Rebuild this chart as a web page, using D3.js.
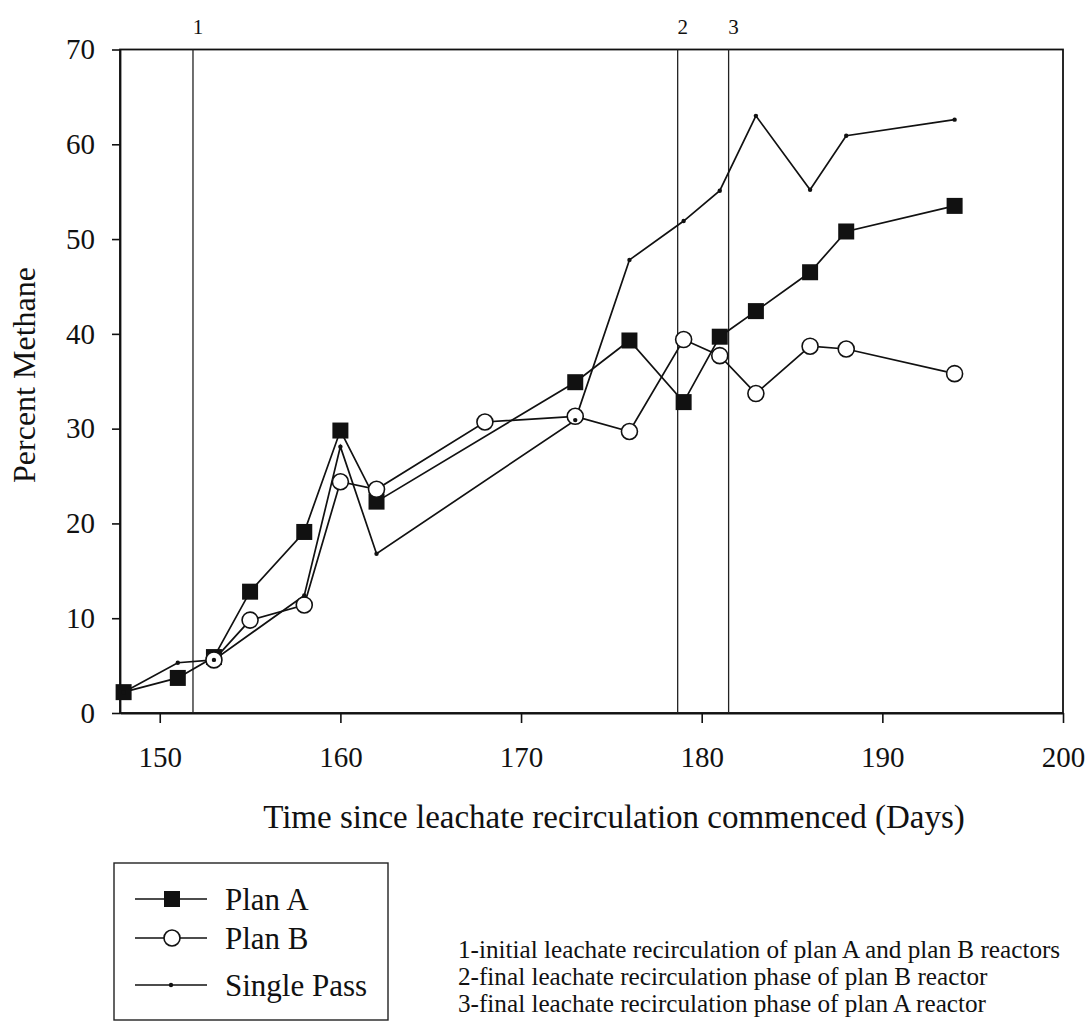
<!DOCTYPE html>
<html>
<head>
<meta charset="utf-8">
<script src="https://cdn.jsdelivr.net/npm/d3@7"></script>
<style>
  body { margin: 0; background: #fff; }
  svg { display: block; font-family: "Liberation Serif", "Times New Roman", serif; }
</style>
</head>
<body>
<svg id="chart" width="1089" height="1022"></svg>
<script>
// data
var daysA = [148, 151, 153, 155, 158, 160, 162, 173, 176, 179, 181, 183, 186, 188, 194];
var planA = [2.2, 3.7, 5.9, 12.8, 19.1, 29.8, 22.3, 34.9, 39.3, 32.8, 39.7, 42.4, 46.5, 50.8, 53.5];

var daysB = [153, 155, 158, 160, 162, 168, 173, 176, 179, 181, 183, 186, 188, 194];
var planB = [5.6, 9.8, 11.4, 24.4, 23.6, 30.7, 31.3, 29.7, 39.4, 37.7, 33.7, 38.7, 38.4, 35.8];

var daysS = [148, 151, 153, 158, 160, 162, 173, 176, 179, 181, 183, 186, 188, 194];
var singlePass = [2.2, 5.3, 5.6, 12.4, 28.1, 16.8, 30.9, 47.8, 51.9, 55.1, 63.0, 55.2, 60.9, 62.6];

var phaseDays = [151.84, 178.67, 181.49];
var phaseLabels = ["1", "2", "3"];

var xTicks = [150, 160, 170, 180, 190, 200];
var yTicks = [0, 10, 20, 30, 40, 50, 60, 70];

var notes = [
  "1-initial leachate recirculation of plan A and plan B reactors",
  "2-final leachate recirculation phase of plan B reactor",
  "3-final leachate recirculation phase of plan A reactor"
];

var svg = d3.select("#chart")

var x = d3.scaleLinear().domain([147.8, 200]).range([120, 1063])
var y = d3.scaleLinear().domain([0, 70]).range([713, 49.5])

// frame
svg.append("rect")
  .attr("x", 120).attr("y", y(70))
  .attr("width", 1063 - 120).attr("height", y(0) - y(70))
  .attr("fill", "none").attr("stroke", "#111").attr("stroke-width", 1.8)

var xAxis = svg.append("g")
  .attr("transform", "translate(0," + y(0) + ")")
  .call(d3.axisBottom(x).tickValues(xTicks).tickSize(10).tickSizeOuter(0).tickPadding(23))
xAxis.selectAll("text").attr("font-size", 29).attr("fill", "#111").attr("font-family", "Liberation Serif")

var yAxis = svg.append("g")
  .attr("transform", "translate(120,0)")
  .call(d3.axisLeft(y).tickValues(yTicks).tickSize(8).tickSizeOuter(0).tickPadding(17))
yAxis.selectAll("text").attr("font-size", 29).attr("fill", "#111").attr("font-family", "Liberation Serif")

svg.selectAll(".domain").attr("stroke", "#111").attr("stroke-width", 1.8)
svg.selectAll(".tick line").attr("stroke", "#111").attr("stroke-width", 1.6)

// phase lines
svg.selectAll(".phase")
  .data(phaseDays)
  .enter()
  .append("line")
  .attr("x1", function(d){ return x(d) })
  .attr("x2", function(d){ return x(d) })
  .attr("y1", y(70))
  .attr("y2", y(0))
  .attr("stroke", "#222")
  .attr("stroke-width", 1.3)

svg.selectAll(".phaseLabel")
  .data(phaseDays)
  .enter()
  .append("text")
  .attr("x", function(d){ return x(d) + 5 })
  .attr("y", 34)
  .attr("text-anchor", "middle")
  .attr("font-size", 21)
  .attr("fill", "#111")
  .text(function(d, i){ return phaseLabels[i] })

var line = d3.line()
  .x(function(d){ return x(d[0]) })
  .y(function(d){ return y(d[1]) })

var seriesA = d3.zip(daysA, planA)
var seriesB = d3.zip(daysB, planB)
var seriesS = d3.zip(daysS, singlePass)

svg.append("path").datum(seriesA).attr("d", line)
  .attr("fill", "none").attr("stroke", "#111").attr("stroke-width", 1.7)
svg.append("path").datum(seriesB).attr("d", line)
  .attr("fill", "none").attr("stroke", "#111").attr("stroke-width", 1.7)
svg.append("path").datum(seriesS).attr("d", line)
  .attr("fill", "none").attr("stroke", "#111").attr("stroke-width", 1.7)

svg.selectAll(".sqA")
  .data(seriesA)
  .enter()
  .append("rect")
  .attr("x", function(d){ return x(d[0]) - 8 })
  .attr("y", function(d){ return y(d[1]) - 8 })
  .attr("width", 16).attr("height", 16)
  .attr("fill", "#111")

svg.selectAll(".ciB")
  .data(seriesB)
  .enter()
  .append("circle")
  .attr("cx", function(d){ return x(d[0]) })
  .attr("cy", function(d){ return y(d[1]) })
  .attr("r", 8)
  .attr("fill", "#fff").attr("stroke", "#111").attr("stroke-width", 1.6)

svg.selectAll(".dotS")
  .data(seriesS)
  .enter()
  .append("circle")
  .attr("cx", function(d){ return x(d[0]) })
  .attr("cy", function(d){ return y(d[1]) })
  .attr("r", 2.2)
  .attr("fill", "#111")

// axis titles
svg.append("text")
  .attr("x", 614).attr("y", 828)
  .attr("text-anchor", "middle")
  .attr("font-size", 33).attr("fill", "#111")
  .text("Time since leachate recirculation commenced (Days)")

svg.append("text")
  .attr("transform", "translate(35,375) rotate(-90)")
  .attr("text-anchor", "middle")
  .attr("font-size", 32).attr("fill", "#111")
  .text("Percent Methane")

// legend
var legend = svg.append("g")
legend.append("rect")
  .attr("x", 114).attr("y", 863).attr("width", 274).attr("height", 157)
  .attr("fill", "none").attr("stroke", "#222").attr("stroke-width", 1.4)

var legendNames = ["Plan A", "Plan B", "Single Pass"]
var legendY = [899, 938, 985]

var item = legend.selectAll(".item")
  .data(legendNames)
  .enter()
  .append("g")
  .attr("transform", function(d, i){ return "translate(0," + legendY[i] + ")" })

item.append("line")
  .attr("x1", 135).attr("x2", 207).attr("y1", 0).attr("y2", 0)
  .attr("stroke", "#111").attr("stroke-width", 1.7)

item.append("text")
  .attr("x", 225).attr("y", 0).attr("dy", "0.36em")
  .attr("font-size", 31).attr("fill", "#111")
  .text(function(d){ return d })

item.filter(function(d, i){ return i == 0 })
  .append("rect")
  .attr("x", 164).attr("y", -8).attr("width", 16).attr("height", 16)
  .attr("fill", "#111")
item.filter(function(d, i){ return i == 1 })
  .append("circle")
  .attr("cx", 172).attr("cy", 0).attr("r", 8)
  .attr("fill", "#fff").attr("stroke", "#111").attr("stroke-width", 1.6)
item.filter(function(d, i){ return i == 2 })
  .append("circle")
  .attr("cx", 171).attr("cy", 0).attr("r", 2.2)
  .attr("fill", "#111")

// notes
svg.selectAll(".note")
  .data(notes)
  .enter()
  .append("text")
  .attr("x", 458)
  .attr("y", function(d, i){ return 958 + i * 26.8 })
  .attr("font-size", 25.2).attr("fill", "#111")
  .text(function(d){ return d })
</script>
</body>
</html>
